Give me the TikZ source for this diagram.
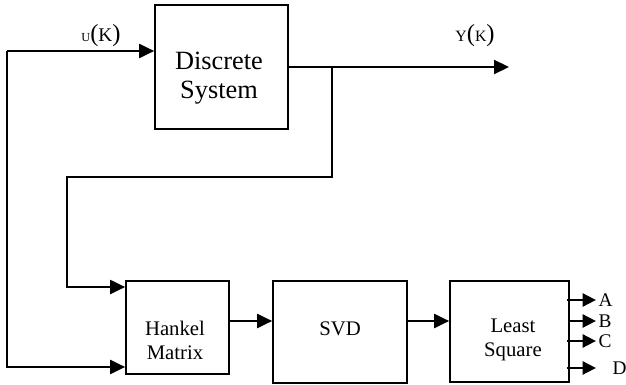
\documentclass[tikz,border=0pt]{standalone}
\usepackage{fontspec}
\setmainfont{Liberation Serif}
\usepackage{tikz}
\usetikzlibrary{arrows.meta}

\newcommand{\parfont}{\fontsize{14}{15}\selectfont}

\begin{document}
\begin{tikzpicture}[x=0.02cm, y=-0.02cm, line width=1pt,
    block/.style={draw, line width=1pt, inner sep=0pt},
    blocktext/.style={align=center, font=\fontsize{11.8}{13.6}\selectfont},
    arr/.style={-{Triangle[length=8.5pt, width=8pt]}},
    arrsmall/.style={-{Triangle[length=7.5pt, width=7.5pt]}},
    outlab/.style={right, inner sep=1pt, font=\fontsize{11}{13}\selectfont}]
        \useasboundingbox (0,0) rectangle (626,385);

        \node (sys)    [block, minimum width=2.66cm, minimum height=2.48cm] at (221.5,67)  {};  %system
        \node (systxt) [align=center, font=\fontsize{15}{16.4}\selectfont] at (219,78) {Discrete\\System};
        \node (hankel) [block, minimum width=2.06cm, minimum height=1.86cm] at (177.5,327.5) {}; %hankel
        \node (hanktxt) [blocktext] at (175,340)   {Hankel\\Matrix};
        \node (svd)    [block, minimum width=2.68cm, minimum height=2.04cm] at (340,332)   {};  %svd
        \node (svdtxt) [blocktext] at (340,328.5)  {SVD};
        \node (ls)     [block, minimum width=2.38cm, minimum height=2.02cm] at (509.5,331.5) {}; %least square
        \node (lstxt)  [blocktext] at (513,340)    {Least\\Square};

        \coordinate (usplit) at (7,51);                                 %u(k) split
        \coordinate (ybr)    at (332,67);                               %y(k) branch
        \coordinate (yend)   at (509,67);                               %
        \coordinate (fb)     at (67,177);                               %feedback corner
        \coordinate (hin1)   at ([yshift=0.81cm]hankel.west);           %
        \coordinate (hin2)   at ([yshift=-0.79cm]hankel.west);          %
        \coordinate (hout)   at ([yshift=0.13cm]hankel.east);           %
        \coordinate (sout)   at ([yshift=0.22cm]svd.east);              %

        \draw [arr] (usplit) -- (usplit -| sys.west);                   %u(k)
        \draw [arr] (usplit) |- (hin2);                                 %
        \draw [arr] (sys.east) -- (yend);                               %y(k)
        \draw [arr] (ybr) |- (fb) |- (hin1);                            %
        \draw [arr] (hout) -- (hout -| svd.west);                       %
        \draw [arr] (sout) -- (sout -| ls.west);                        %

        \node (ulab) at (101,36) {{\fontsize{7}{8}\selectfont U}{\parfont(}{\fontsize{11}{12}\selectfont K}{\parfont)}};
        \node (ylab) at (475,36) {{\fontsize{9}{10}\selectfont Y}{\parfont(}{\fontsize{9}{10}\selectfont K}{\parfont)}};

        \draw [arrsmall] ([xshift=-0.06cm, yshift=0.63cm]ls.east)  -- ++(29,0) node (aout) [outlab] {A};
        \draw [arrsmall] ([yshift=0.21cm]ls.east)                  -- ++(26,0) node (bout) [outlab] {B};
        \draw [arrsmall] ([xshift=-0.06cm, yshift=-0.19cm]ls.east) -- ++(29,0) node (cout) [outlab] {C};
        \draw [arrsmall] ([xshift=-0.06cm, yshift=-0.73cm]ls.east) -- ++(29,0) node (dout) [outlab, xshift=0.28cm] {D};
      \end{tikzpicture}
\end{document}
